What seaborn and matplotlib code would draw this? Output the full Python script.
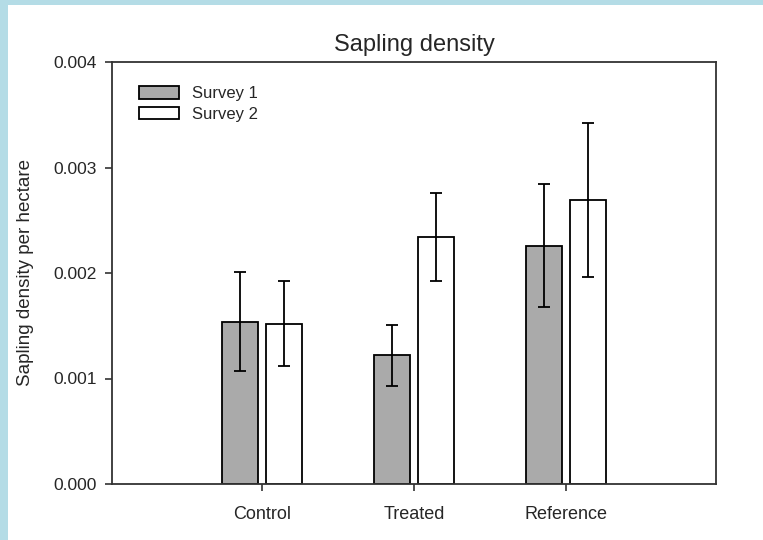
import matplotlib
matplotlib.use("Agg")
import matplotlib.pyplot as plt
import seaborn as sns
import pandas as pd
from matplotlib.ticker import FormatStrFormatter

categories = ["Control", "Treated", "Reference"]
surveys = ["Survey 1", "Survey 2"]
survey1 = [0.00154, 0.00122, 0.00226]
survey2 = [0.00152, 0.00234, 0.00269]
survey1_err = [0.00047, 0.00029, 0.00058]
survey2_err = [0.00040, 0.00042, 0.00073]
yticks = [0.000, 0.001, 0.002, 0.003, 0.004]

rows = []
for i, c in enumerate(categories):
    rows.append({"Site": c, "Survey": surveys[0], "Density": survey1[i]})
    rows.append({"Site": c, "Survey": surveys[1], "Density": survey2[i]})
df = pd.DataFrame(rows)

sns.set_style("white")
plt.rcParams["font.family"] = ["Liberation Sans", "DejaVu Sans"]

fig = plt.figure(figsize=(7.63, 5.40), dpi=100)
fig.patch.set_facecolor("white")
# light blue border strips (top and left)
fig.add_artist(plt.Rectangle((0, 1 - 5 / 540), 1, 5 / 540, transform=fig.transFigure,
                             facecolor="#b4dce6", edgecolor="none"))
fig.add_artist(plt.Rectangle((0, 0), 8 / 763, 1, transform=fig.transFigure,
                             facecolor="#b4dce6", edgecolor="none"))

ax = fig.add_axes([112 / 763, 1 - 484 / 540, (716 - 112) / 763, (484 - 62) / 540])

sns.barplot(data=df, x="Site", y="Density", hue="Survey", order=categories,
            hue_order=surveys, palette={"Survey 1": "#aaaaaa", "Survey 2": "white"},
            edgecolor="black", linewidth=1.3, width=0.586, gap=0.19,
            errorbar=None, ax=ax, saturation=1)

# error bars positioned at the bar centres
for container, errs, vals in zip(ax.containers, [survey1_err, survey2_err], [survey1, survey2]):
    xs = [p.get_x() + p.get_width() / 2 for p in container.patches]
    ax.errorbar(xs, vals, yerr=errs, fmt="none", ecolor="black",
                elinewidth=1.3, capsize=4.3, capthick=1.3, zorder=5)

ax.set_xlim(-0.99, 2.99)
ax.set_ylim(0, 0.004)
ax.set_yticks(yticks)
ax.yaxis.set_major_formatter(FormatStrFormatter("%.3f"))
ax.set_xlabel("")
ax.set_ylabel("Sapling density per hectare", fontsize=13.5, labelpad=14)
ax.set_title("Sapling density", fontsize=17, pad=8)

for s in ax.spines.values():
    s.set_visible(True)
    s.set_color("#333333")
    s.set_linewidth(1.3)

ax.tick_params(axis="both", which="major", direction="out", length=5, width=1.2,
               color="#333333", left=True, bottom=True, right=False, top=False)
ax.tick_params(axis="y", labelsize=12.5, pad=6)
ax.tick_params(axis="x", labelsize=13, pad=11)

handles, labels = ax.get_legend_handles_labels()
ax.legend(handles, labels, loc="upper left", bbox_to_anchor=(0.033, 0.958), frameon=False,
          borderaxespad=0, fontsize=12, handlelength=2.45, handleheight=0.78,
          handletextpad=0.78, labelspacing=0.32)

fig.savefig("out.png", dpi=100)
